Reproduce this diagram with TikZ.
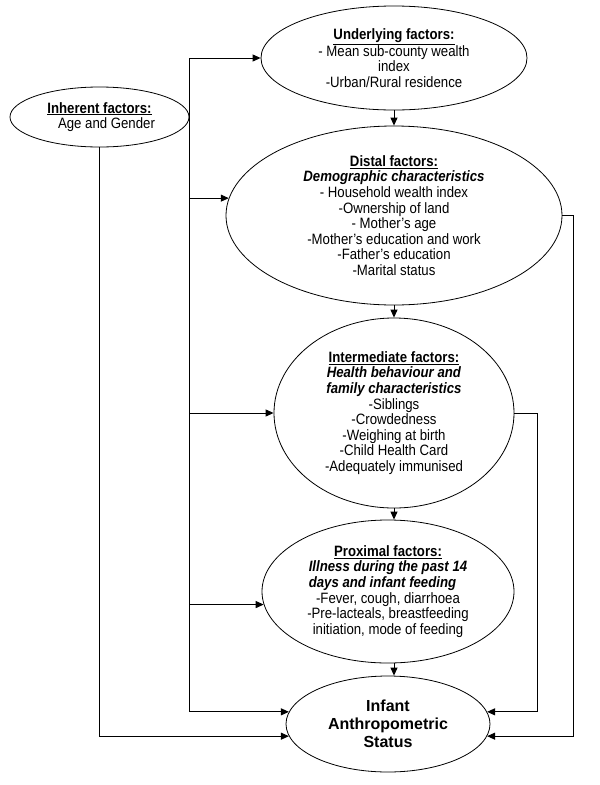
\documentclass[tikz,border=0pt]{standalone}
\usepackage{fontspec}
\setmainfont{Liberation Sans}[FakeStretch=0.88]
\newfontfamily\plainsans{Liberation Sans}
\usetikzlibrary{arrows.meta,shapes.geometric}
\tikzset{
    factor/.style ={ellipse, draw, line width=0.8pt, inner sep=0pt, align=center, font=\fontsize{15}{15.6}\selectfont},
    outcome/.style ={factor, font=\fontsize{16}{18.2}\plainsans\bfseries},
    arr/.style ={line width=1pt, -{Triangle[length=8pt,width=7pt]}}}
\newcommand{\headline}[1]{\underline{\textbf{#1}}}
\newcommand{\subhead}[1]{\textbf{\textit{#1}}}

\begin{document}
\begin{tikzpicture}[x=1pt,y=1pt]
    \useasboundingbox (0,0) rectangle (600,-785);
    \node[factor, minimum width=179pt, minimum height=60pt] (inh) at (99.5,-117)
        {\headline{Inherent factors:}\\\hspace*{14pt}Age and Gender};
    \node[factor, minimum width=266pt, minimum height=104pt] (und) at (394,-58)
        {\headline{Underlying factors:}\\- Mean sub-county wealth\\index\\-Urban/Rural residence};
    \node[factor, minimum width=336pt, minimum height=179pt] (dis) at (394,-215.5)
        {\headline{Distal factors:}\\\subhead{Demographic characteristics}\\- Household wealth index\\-Ownership of land\\- Mother's age\\-Mother's education and work\\-Father's education\\-Marital status};
    \node[factor, minimum width=240pt, minimum height=190pt] (int) at (394,-413)
        {\headline{Intermediate factors:}\\\subhead{Health behaviour and}\\\subhead{family characteristics}\\-Siblings\\-Crowdedness\\-Weighing at birth\\-Child Health Card\\-Adequately immunised};
    \node[factor, minimum width=252pt, minimum height=143pt] (pro) at (388,-591.5)
        {\headline{Proximal factors:}\\\subhead{Illness during the past 14}\\\subhead{\rlap{days and infant feeding}\phantom{Illness during the past 14}}\\-Fever, cough, diarrhoea\\-Pre-lacteals, breastfeeding\\initiation, mode of feeding};
    \node[outcome, minimum width=204pt, minimum height=96pt] (ias) at (388,-724)
        {Infant\\Anthropometric\\Status};
    % main chain
    \draw[arr] (und) -- (dis);
    \draw[arr] (dis) -- (int);
    \draw[arr] (int.south) -- (int.south |- pro.north);
    \draw[arr] (int.south |- pro.south) -- (int.south |- ias.north);
    % left side
    \coordinate (bus) at (inh.east |- und.west);
    \draw[arr] (bus) -- (und.west);
    \draw[arr] (bus) |- (ias.173);
    \draw[arr] (bus |- dis.174) -- (dis.174);
    \draw[arr] (bus |- int.west) -- (int.west);
    \draw[arr] (bus |- pro.186) -- (pro.186);
    \draw[arr] (inh.south) |- (ias.187);
    % right side
    \draw[arr] (dis.east) -- ++(11,0) |- (ias.353);
    \draw[arr] (int.east) -- ++(23,0) |- (ias.7);
\end{tikzpicture}
\end{document}
